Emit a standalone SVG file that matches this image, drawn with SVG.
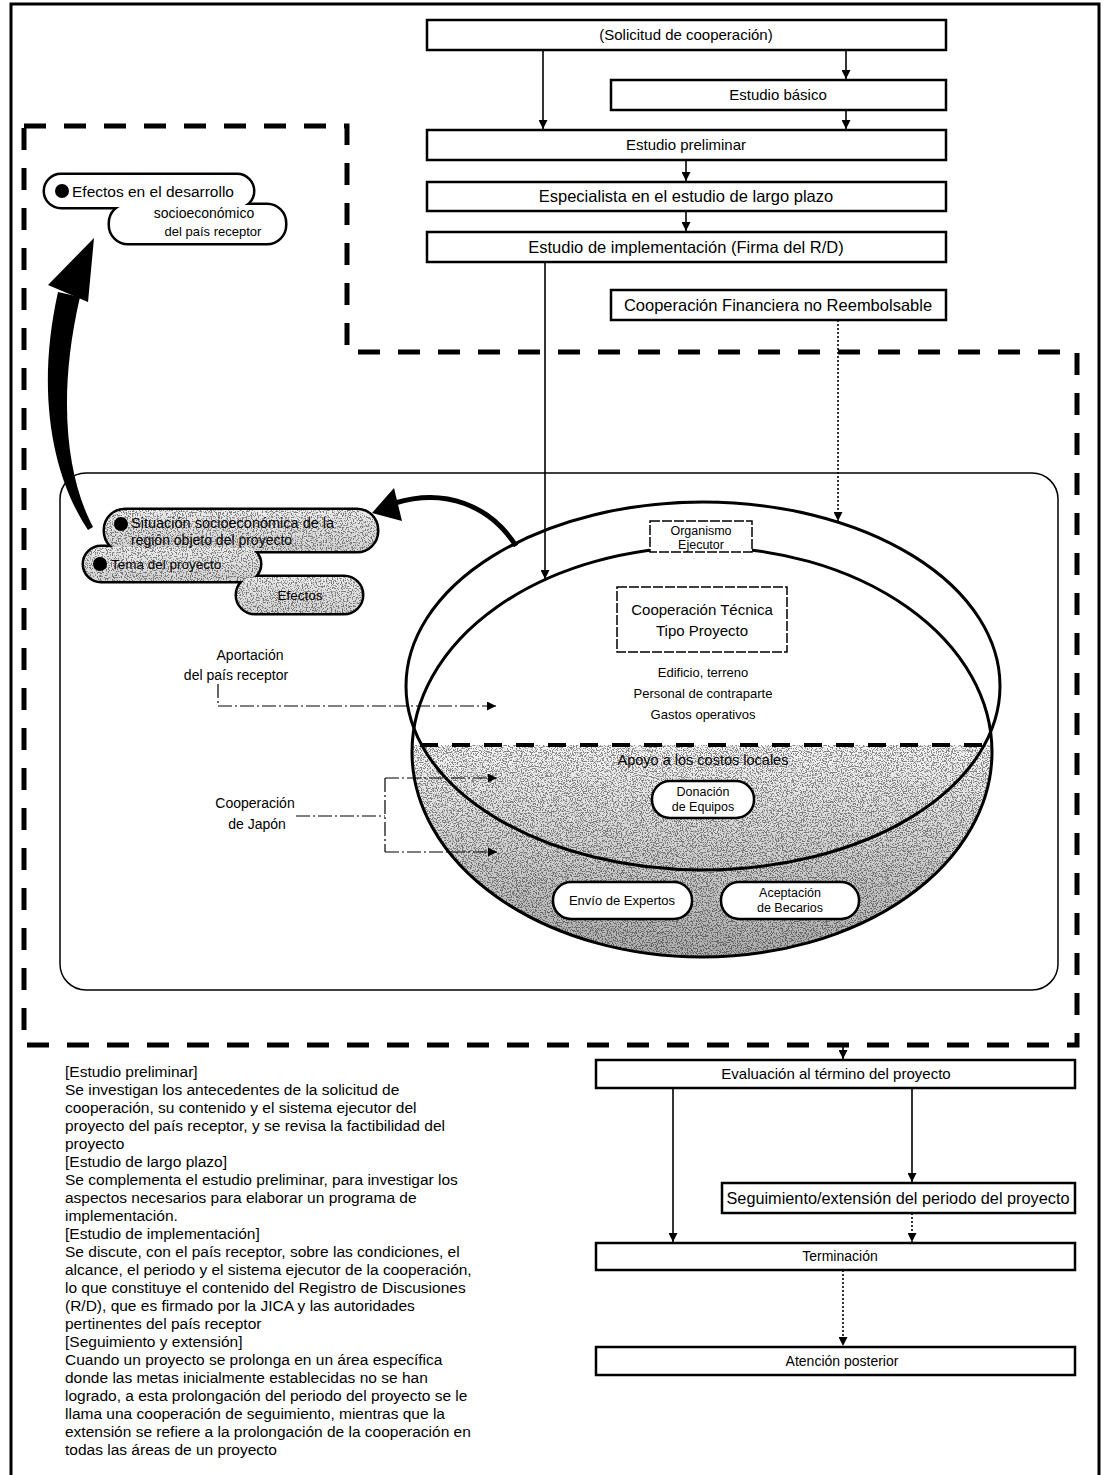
<svg xmlns="http://www.w3.org/2000/svg" width="1111" height="1475" viewBox="0 0 1111 1475">
<defs>
<style>
text{font-family:"Liberation Sans",Arial,sans-serif;fill:#000}
.box{fill:#fff;stroke:#000;stroke-width:2.5}
.c{text-anchor:middle}
.f17{font-size:16.5px}
.f15{font-size:15px}
.f14{font-size:14px}
.f13{font-size:13px}
.f12{font-size:12.5px}
.para{font-size:15.5px}
.ln{fill:none;stroke:#000;stroke-width:1.6}
.dot{fill:none;stroke:#000;stroke-width:1.6;stroke-dasharray:2 2}
.dd{fill:none;stroke:#000;stroke-width:1.2;stroke-dasharray:14 3 2 3}
.pill{fill:#fff;stroke:#000;stroke-width:2.5}
.ell{fill:none;stroke:#000;stroke-width:3}
</style>
<marker id="ah" viewBox="0 0 10 10" refX="10" refY="5" markerWidth="10" markerHeight="9" orient="auto" markerUnits="userSpaceOnUse"><path d="M0,0 L10,5 L0,10 z"/></marker>
<filter id="stip" x="0" y="0" width="1" height="1">
<feTurbulence type="fractalNoise" baseFrequency="0.8" numOctaves="2" seed="7" result="n"/>
<feColorMatrix in="n" type="matrix" values="0 0 0 0 0  0 0 0 0 0  0 0 0 0 0  -9 0 0 0 4.6" result="m"/>
<feComposite in="m" in2="SourceGraphic" operator="in"/>
</filter>
<filter id="stip2" x="0" y="0" width="1" height="1">
<feTurbulence type="fractalNoise" baseFrequency="0.8" numOctaves="2" seed="3" result="n"/>
<feColorMatrix in="n" type="matrix" values="0 0 0 0 0  0 0 0 0 0  0 0 0 0 0  -9 0 0 0 4.4" result="m"/>
<feComposite in="m" in2="SourceGraphic" operator="in"/>
</filter>
<linearGradient id="shade" x1="0" y1="0" x2="0" y2="1">
<stop offset="0" stop-color="#f6f6f6"/>
<stop offset="1" stop-color="#acacac"/>
</linearGradient>
<linearGradient id="shade2" x1="0" y1="0" x2="0" y2="1">
<stop offset="0" stop-color="#ececec"/>
<stop offset="1" stop-color="#d2d2d2"/>
</linearGradient>
<clipPath id="bowl"><ellipse cx="702" cy="752" rx="290" ry="205"/></clipPath>
</defs>

<rect width="1111" height="1475" fill="#fff"/>

<!-- outer border -->
<g id="border">
<path d="M11,1480 V4 H1099 V1480" fill="none" stroke="#000" stroke-width="3"/>
</g>

<!-- dashed region -->
<g id="region">
<path d="M24,126 H347 V352 H1077 V1045 H24 Z" fill="none" stroke="#000" stroke-width="5" stroke-dasharray="22 18"/>
<rect x="60" y="473" width="998" height="517" rx="26" fill="none" stroke="#000" stroke-width="1.5"/>
</g>

<!-- top flow nodes -->
<g id="n-solicitud"><rect class="box" x="427" y="20" width="519" height="30"/><text class="c f15" x="686" y="40">(Solicitud de cooperación)</text></g>
<g id="n-basico"><rect class="box" x="611" y="80" width="335" height="30"/><text class="c f15" x="778" y="100">Estudio básico</text></g>
<g id="n-preliminar"><rect class="box" x="427" y="130" width="519" height="30"/><text class="c f15" x="686" y="150">Estudio preliminar</text></g>
<g id="n-largo"><rect class="box" x="427" y="182" width="519" height="29"/><text class="c f17" x="686" y="202">Especialista en el estudio de largo plazo</text></g>
<g id="n-implementacion"><rect class="box" x="427" y="232" width="519" height="30"/><text class="c f17" x="686" y="253">Estudio de implementación (Firma del R/D)</text></g>
<g id="n-financiera"><rect class="box" x="611" y="290" width="335" height="30"/><text class="c f17" x="778" y="311">Cooperación Financiera no Reembolsable</text></g>

<!-- effects bubble top-left -->
<g id="n-efectos-desarrollo">
<rect x="45" y="175" width="208" height="32" rx="16" fill="#000" stroke="#000" stroke-width="5"/>
<rect x="110" y="205" width="175" height="38" rx="18" fill="#000" stroke="#000" stroke-width="5"/>
<rect x="45" y="175" width="208" height="32" rx="16" fill="#fff"/>
<rect x="110" y="205" width="175" height="38" rx="18" fill="#fff"/>
<circle cx="62" cy="191" r="7"/>
<text x="72" y="197" style="font-size:15.5px">Efectos en el desarrollo</text>
<text class="c f14" x="204" y="218">socioeconómico</text>
<text class="c f13" x="213" y="236">del país receptor</text>
</g>

<!-- big curved arrow -->
<g id="big-arrow">
<path d="M88,530 C56,482 34,400 58,292 L80,297 C56,400 68,480 93,527 Z" fill="#000"/>
<polygon points="94,238 48,285 88,302" fill="#000"/>
</g>

<!-- left cluster bubble -->
<g id="n-situacion">
<rect x="105" y="510" width="272" height="41" rx="20" fill="#000" stroke="#000" stroke-width="5"/>
<rect x="84" y="547" width="176" height="34" rx="17" fill="#000" stroke="#000" stroke-width="5"/>
<rect x="237" y="577" width="125" height="36" rx="18" fill="#000" stroke="#000" stroke-width="5"/>
<rect x="105" y="510" width="272" height="41" rx="20" fill="url(#shade2)"/>
<rect x="84" y="547" width="176" height="34" rx="17" fill="url(#shade2)"/>
<rect x="237" y="577" width="125" height="36" rx="18" fill="url(#shade2)"/>
<g filter="url(#stip2)" opacity="0.45">
<rect x="105" y="510" width="272" height="41" rx="20" fill="#000"/>
<rect x="84" y="547" width="176" height="34" rx="17" fill="#000"/>
<rect x="237" y="577" width="125" height="36" rx="18" fill="#000"/>
</g>
<circle cx="121" cy="524" r="7"/>
<circle cx="100" cy="564" r="7"/>
<text x="131" y="528" style="font-size:14.5px">Situación socioeconómica de la</text>
<text x="131" y="545" style="font-size:14px">región objeto del proyecto</text>
<text x="111" y="569" style="font-size:13.5px">Tema del proyecto</text>
<text class="c" x="300" y="600" style="font-size:13.5px">Efectos</text>
</g>

<!-- curved arrow to left cluster -->
<g id="small-curve">
<path d="M516,546 C490,505 445,488 395,503" fill="none" stroke="#000" stroke-width="5"/>
<polygon points="372,513 394,488 402,521" fill="#000"/>
</g>

<!-- ellipse / bowl -->
<g id="bowl-shade" clip-path="url(#bowl)">
<rect x="400" y="745" width="600" height="215" fill="url(#shade)"/>
<rect x="400" y="745" width="600" height="215" fill="#000" filter="url(#stip)" opacity="0.45"/>
</g>
<g id="ellipses">
<ellipse class="ell" cx="703" cy="686" rx="297" ry="184"/>
<ellipse class="ell" cx="702" cy="752" rx="290" ry="205"/>
<line x1="420" y1="745" x2="986" y2="745" stroke="#000" stroke-width="4" stroke-dasharray="18 14"/>
</g>

<g id="n-organismo"><rect x="650" y="521" width="102" height="31" fill="#fff" stroke="#000" stroke-width="1.5" stroke-dasharray="10 2"/><text class="c f12" x="701" y="535">Organismo</text><text class="c f12" x="701" y="549">Ejecutor</text></g>
<g id="n-tecnica"><rect x="617" y="587" width="170" height="65" fill="#fff" stroke="#000" stroke-width="1.5" stroke-dasharray="10 2"/><text class="c" x="702" y="615" style="font-size:15px">Cooperación Técnica</text><text class="c" x="702" y="636" style="font-size:15px">Tipo Proyecto</text></g>
<g id="n-recursos"><text class="c f13" x="703" y="677">Edificio, terreno</text><text class="c f13" x="703" y="698">Personal de contraparte</text><text class="c f13" x="703" y="719">Gastos operativos</text></g>
<g id="n-apoyo"><text class="c" x="703" y="765" style="font-size:14.5px">Apoyo a los costos locales</text></g>
<g id="n-donacion"><rect class="pill" x="652" y="781" width="102" height="37" rx="18"/><text class="c f12" x="703" y="796">Donación</text><text class="c f12" x="703" y="811">de Equipos</text></g>
<g id="n-envio"><rect class="pill" x="553" y="882" width="139" height="37" rx="18"/><text class="c f13" x="622" y="905">Envío de Expertos</text></g>
<g id="n-aceptacion"><rect class="pill" x="721" y="882" width="138" height="37" rx="18"/><text class="c f12" x="790" y="897">Aceptación</text><text class="c f12" x="790" y="912">de Becarios</text></g>

<g id="n-aportacion"><text class="c f14" x="250" y="660">Aportación</text><text class="c f14" x="236" y="680">del país receptor</text></g>
<g id="n-japon"><text class="c f14" x="255" y="808">Cooperación</text><text class="c f14" x="257" y="829">de Japón</text></g>

<!-- bottom right flow nodes -->
<g id="n-evaluacion"><rect class="box" x="596" y="1060" width="479" height="28"/><text class="c f15" x="836" y="1079">Evaluación al término del proyecto</text></g>
<g id="n-seguimiento"><rect class="box" x="722" y="1183" width="353" height="30"/><text class="c" x="898" y="1204" style="font-size:16.3px">Seguimiento/extensión del periodo del proyecto</text></g>
<g id="n-terminacion"><rect class="box" x="596" y="1243" width="479" height="27"/><text class="c f14" x="840" y="1261">Terminación</text></g>
<g id="n-atencion"><rect class="box" x="596" y="1347" width="479" height="28"/><text class="c f14" x="842" y="1366">Atención posterior</text></g>

<!-- paragraph -->
<g id="notes" class="para">
<text x="65" y="1077">[Estudio preliminar]</text>
<text x="65" y="1095">Se investigan los antecedentes de la solicitud de</text>
<text x="65" y="1113">cooperación, su contenido y el sistema ejecutor del</text>
<text x="65" y="1131">proyecto del país receptor, y se revisa la factibilidad del</text>
<text x="65" y="1149">proyecto</text>
<text x="65" y="1167">[Estudio de largo plazo]</text>
<text x="65" y="1185">Se complementa el estudio preliminar, para investigar los</text>
<text x="65" y="1203">aspectos necesarios para elaborar un programa de</text>
<text x="65" y="1221">implementación.</text>
<text x="65" y="1239">[Estudio de implementación]</text>
<text x="65" y="1257">Se discute, con el país receptor, sobre las condiciones, el</text>
<text x="65" y="1275">alcance, el periodo y el sistema ejecutor de la cooperación,</text>
<text x="65" y="1293">lo que constituye el contenido del Registro de Discusiones</text>
<text x="65" y="1311">(R/D), que es firmado por la JICA y las autoridades</text>
<text x="65" y="1329">pertinentes del país receptor</text>
<text x="65" y="1347">[Seguimiento y extensión]</text>
<text x="65" y="1365">Cuando un proyecto se prolonga en un área específica</text>
<text x="65" y="1383">donde las metas inicialmente establecidas no se han</text>
<text x="65" y="1401">logrado, a esta prolongación del periodo del proyecto se le</text>
<text x="65" y="1419">llama una cooperación de seguimiento, mientras que la</text>
<text x="65" y="1437">extensión se refiere a la prolongación de la cooperación en</text>
<text x="65" y="1455">todas las áreas de un proyecto</text>
</g>

<!-- connectors -->
<g id="connectors">
<line class="ln" x1="543" y1="50" x2="543" y2="129" marker-end="url(#ah)"/>
<line class="ln" x1="846" y1="50" x2="846" y2="79" marker-end="url(#ah)"/>
<line class="ln" x1="846" y1="110" x2="846" y2="129" marker-end="url(#ah)"/>
<line class="ln" x1="686" y1="160" x2="686" y2="181" marker-end="url(#ah)"/>
<line class="ln" x1="686" y1="211" x2="686" y2="231" marker-end="url(#ah)"/>
<line class="ln" x1="545" y1="262" x2="545" y2="579" marker-end="url(#ah)"/>
<line class="dot" x1="838" y1="320" x2="838" y2="521" marker-end="url(#ah)"/>
<path class="dd" d="M218,684 V706 H496" marker-end="url(#ah)"/>
<path class="dd" d="M296,816 H385"/>
<path class="dd" d="M385,778 V852"/>
<line class="dd" x1="385" y1="778" x2="497" y2="778" marker-end="url(#ah)"/>
<line class="dd" x1="385" y1="852" x2="497" y2="852" marker-end="url(#ah)"/>
<line class="ln" x1="843" y1="1043" x2="843" y2="1059" marker-end="url(#ah)"/>
<line class="ln" x1="673" y1="1088" x2="673" y2="1242" marker-end="url(#ah)"/>
<line class="ln" x1="912" y1="1088" x2="912" y2="1182" marker-end="url(#ah)"/>
<line class="dot" x1="912" y1="1213" x2="912" y2="1242" marker-end="url(#ah)"/>
<line class="dot" x1="843" y1="1270" x2="843" y2="1346" marker-end="url(#ah)"/>
</g>
</svg>
